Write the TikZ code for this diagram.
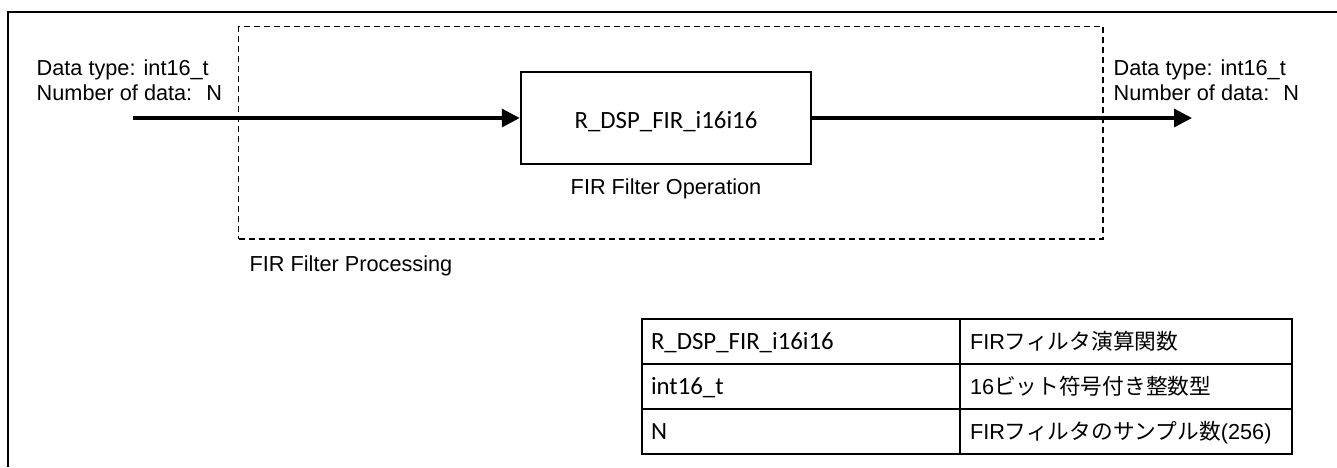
\documentclass[tikz,border=0pt]{standalone}
\usepackage{fontspec}
\setmainfont{Liberation Sans}
\newfontfamily\calfont{Carlito}
\newfontfamily\jpfont{Noto Sans CJK JP}
\usetikzlibrary{arrows.meta}
\begin{document}
\begin{tikzpicture}[x=1pt,y=-1pt,
  lab/.style={font=\fontsize{21.7}{25}\selectfont, inner sep=0pt},
  flow/.style={line width=3.3pt, -{Triangle[length=18pt,width=18pt]}},
  blockbox/.style={draw, line width=2.5pt, minimum width=290pt, minimum height=92pt,
    inner sep=0pt, font=\calfont\fontsize{24.8}{28}\selectfont, text height=21pt, text depth=0pt},
  procbox/.style={draw, line width=1.3pt, dash pattern=on 6pt off 4pt,
    minimum width=864.3pt, minimum height=212.3pt, inner sep=0pt},
  cellA/.style={draw, line width=1.7pt, outer sep=0pt, anchor=north west, minimum height=45pt,
    text width=300pt, inner xsep=9pt, inner ysep=0pt, align=left,
    font=\calfont\fontsize{24.8}{28}\selectfont, text height=16pt, text depth=0pt},
  cellB/.style={draw, line width=1.7pt, outer sep=0pt, anchor=north west, minimum height=45pt,
    text width=312pt, inner xsep=10pt, inner ysep=0pt, align=left,
    font=\fontsize{21.7}{25}\selectfont, text height=15.5pt, text depth=0pt},
  frame/.style={line width=2pt}
]
\useasboundingbox (0,0) rectangle (1337,467);
% outer frame
\draw[frame] (8,467) -- (8,12) -- (1337,12);

% processing box
\node[procbox] (proc) at (670.85,132.85) {};
\node[lab, anchor=base west] (proclab) at (249.5,271) {FIR Filter Processing};

% operation block
\node[blockbox] (blk) at (666,118) {R\_DSP\_FIR\_i16i16};
\node[lab, anchor=base] (oplab) at (666,194.5) {FIR Filter Operation};

% connectors
\coordinate (src) at (133,118);
\coordinate (dst) at (1192,118);
\draw[flow] (src) -- (blk.west);
\draw[flow] (blk.east) -- (dst);

% labels
\node[lab, anchor=base west] (inA) at (36.5,75.7) {Data type: int16\_t};
\node[lab, anchor=base west] (inB) at (36.5,100.7) {Number of data: \ N};
\node[lab, anchor=base west] (outA) at (1113.5,75.7) {Data type: int16\_t};
\node[lab, anchor=base west] (outB) at (1113.5,100.7) {Number of data: \ N};

% table
\node[cellA] (t11) at (642,319) {R\_DSP\_FIR\_i16i16};
\node[cellB] (t12) at (960,319) {FIR{\jpfont フィルタ演算関数}};
\node[cellA] (t21) at (642,364) {int16\_t};
\node[cellB] (t22) at (960,364) {16{\jpfont ビット符号付き整数型}};
\node[cellA] (t31) at (642,409) {N};
\node[cellB] (t32) at (960,409) {FIR{\jpfont フィルタのサンプル数}(256)};
\end{tikzpicture}
\end{document}
